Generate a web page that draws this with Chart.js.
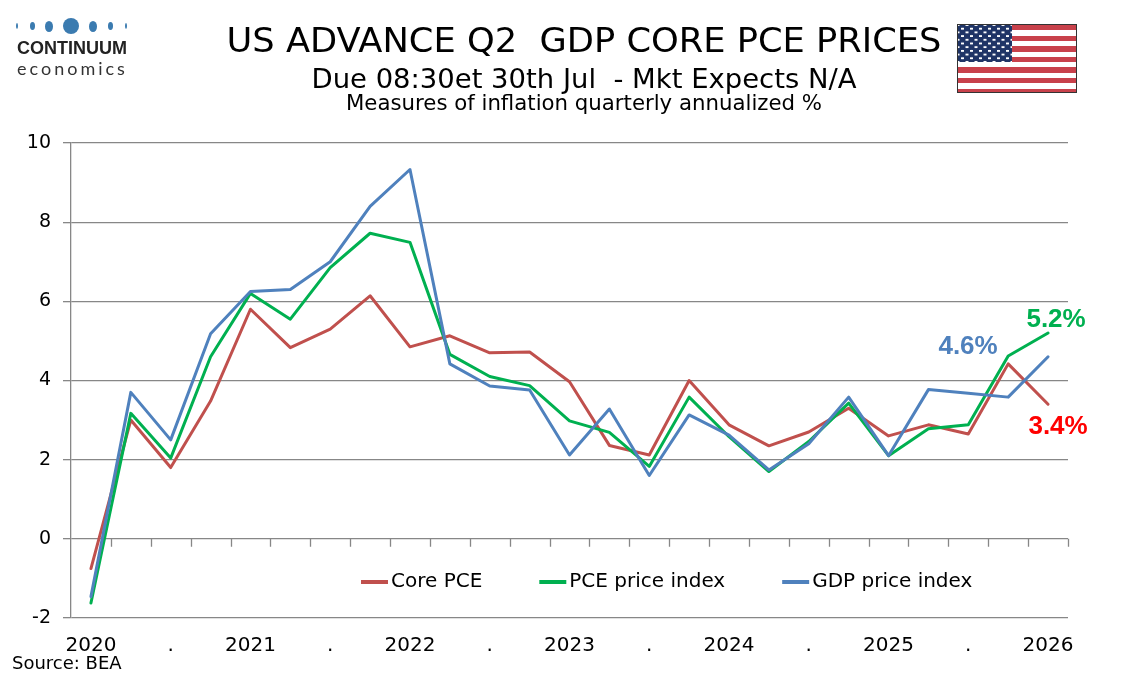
<!DOCTYPE html>
<html>
<head>
<meta charset="utf-8">
<script src="https://cdn.jsdelivr.net/npm/chart.js@4/dist/chart.umd.min.js"></script>
<style>
  body { margin: 0; background: #fff; }
  #wrap { position: relative; width: 1134px; height: 680px; overflow: hidden; background: #fff; }
  #chart { position: absolute; left: 0; top: 0; }
  .hdr { position: absolute; left: 0; width: 1168px; text-align: center; color: #000; line-height: 1;
         font-family: "DejaVu Sans", sans-serif; white-space: nowrap; transform-origin: 584px 0; }
  #t1 { top: 24px; font-size: 33px; }
  #t2 { top: 65px; font-size: 27px; }
  #t3 { top: 93px; font-size: 21px; }
  #logo { position: absolute; left: 12px; top: 14px; width: 125px; }
  .dot { position: absolute; background: #3b7bb0; border-radius: 50%; }
  #logo .name { position: absolute; left: 5px; top: 24px; font: bold 18px "Liberation Sans", sans-serif; color: #222; }
  #logo .sub { position: absolute; left: 5px; top: 43px; font: 18px Lato, sans-serif; color: #333; letter-spacing: 3px; }
  #flag { position: absolute; left: 957px; top: 24px; width: 120px; height: 69px; box-sizing: border-box;
          border: 1px solid #333;
          background: repeating-linear-gradient(to bottom, #c8414b 0, #c8414b 5.3px, #fff 5.3px, #fff 10.6px); }
  #canton { position: absolute; left: 0; top: 0; width: 54px; height: 37px; background-color: #1f3466;
            background-image: radial-gradient(circle, #fff 1.1px, transparent 1.4px),
                              radial-gradient(circle, #fff 1.1px, transparent 1.4px);
            background-size: 9px 7.4px, 9px 7.4px; background-position: 0 0, 4.5px 3.7px; }
  #source { position: absolute; left: 12px; top: 652px; font: 18px "DejaVu Sans", sans-serif; color: #000; }
</style>
</head>
<body>
<div id="wrap">
  <canvas id="chart" width="1134" height="680"></canvas>
  <div id="logo">
    <div class="dot" style="left:4px;top:9px;width:2px;height:6px"></div>
    <div class="dot" style="left:18px;top:8px;width:5px;height:8px"></div>
    <div class="dot" style="left:33px;top:7px;width:8px;height:11px"></div>
    <div class="dot" style="left:51px;top:4px;width:16px;height:16px"></div>
    <div class="dot" style="left:77px;top:7px;width:8px;height:11px"></div>
    <div class="dot" style="left:96px;top:8px;width:5px;height:8px"></div>
    <div class="dot" style="left:113px;top:9px;width:2px;height:6px"></div>
    <div class="name">CONTINUUM</div>
    <div class="sub">economics</div>
  </div>
  <div class="hdr" id="t1" data-w="715"><span>US ADVANCE Q2&nbsp; GDP CORE PCE PRICES</span></div>
  <div class="hdr" id="t2" data-w="545"><span>Due 08:30et 30th Jul&nbsp; - Mkt Expects N/A</span></div>
  <div class="hdr" id="t3" data-w="476"><span>Measures of inflation quarterly annualized %</span></div>
  <div id="flag"><div id="canton"></div></div>
  <div id="source">Source: BEA</div>
</div>
<script>
// quarterly annualized % changes
const quarters = ['2020Q2','2020Q3','2020Q4','2021Q1','2021Q2','2021Q3','2021Q4','2022Q1','2022Q2',
  '2022Q3','2022Q4','2023Q1','2023Q2','2023Q3','2023Q4','2024Q1','2024Q2','2024Q3','2024Q4',
  '2025Q1','2025Q2','2025Q3','2025Q4','2026Q1','2026Q2'];
const xTickLabels = ['2020','','.','','2021','','.','','2022','','.','','2023','','.','',
  '2024','','.','','2025','','.','','2026'];
const corePce = [-0.75, 3.0, 1.8, 3.48, 5.8, 4.83, 5.3, 6.14, 4.85, 5.13, 4.7, 4.72, 3.97,
  2.36, 2.12, 4.0, 2.88, 2.35, 2.7, 3.3, 2.6, 2.88, 2.65, 4.42, 3.4];
const pceIndex = [-1.62, 3.17, 2.04, 4.6, 6.2, 5.55, 6.85, 7.72, 7.49, 4.66, 4.1, 3.87, 2.98,
  2.69, 1.83, 3.58, 2.58, 1.7, 2.46, 3.43, 2.1, 2.78, 2.88, 4.62, 5.2];
const gdpIndex = [-1.46, 3.7, 2.5, 5.18, 6.25, 6.3, 7.0, 8.4, 9.33, 4.42, 3.86, 3.76, 2.12,
  3.28, 1.6, 3.13, 2.62, 1.74, 2.4, 3.58, 2.1, 3.77, 3.68, 3.58, 4.6];
const yTicks = [-2, 0, 2, 4, 6, 8, 10];

const gridColor = '#878787';

// squeeze the header lines to the widths they have in the original
document.querySelectorAll('.hdr').forEach(el => {
  const w = el.querySelector('span').getBoundingClientRect().width;
  el.style.transform = 'scaleX(' + (+el.dataset.w / w) + ')';
});

// tick marks hanging under the zero line, one per category boundary
const zeroTicks = {
  id: 'zeroTicks',
  beforeDatasetsDraw(chart) {
    const {ctx, scales: {x, y}} = chart;
    const y0 = y.getPixelForValue(0);
    const w = (x.right - x.left) / quarters.length;
    ctx.save();
    ctx.strokeStyle = gridColor;
    ctx.lineWidth = 1.3;
    ctx.beginPath();
    for (let i = 1; i <= quarters.length; i++) {
      const px = Math.round(x.left + i * w) + 0.5;
      ctx.moveTo(px, y0);
      ctx.lineTo(px, y0 + 8);
    }
    ctx.stroke();
    ctx.restore();
  }
};

// legend inside the plot
const innerLegend = {
  id: 'innerLegend',
  afterDraw(chart) {
    const ctx = chart.ctx;
    let x = 361;
    const y = 582;
    ctx.save();
    ctx.font = '20px "DejaVu Sans"';
    ctx.textBaseline = 'middle';
    chart.data.datasets.forEach(ds => {
      ctx.strokeStyle = ds.borderColor;
      ctx.lineWidth = 4;
      ctx.beginPath();
      ctx.moveTo(x, y);
      ctx.lineTo(x + 27, y);
      ctx.stroke();
      ctx.fillStyle = '#000';
      ctx.fillText(ds.label, x + 30, y);
      x += 30 + ctx.measureText(ds.label).width + 57;
    });
    ctx.restore();
  }
};

// latest value labels
const lastLabels = {
  id: 'lastLabels',
  afterDatasetsDraw(chart) {
    const ctx = chart.ctx;
    ctx.save();
    ctx.font = 'bold 26px "Liberation Sans"';
    ctx.textAlign = 'center';
    ctx.textBaseline = 'middle';
    chart.data.datasets.forEach((ds, i) => {
      const pts = chart.getDatasetMeta(i).data;
      const p = pts[pts.length - 1];
      const v = ds.data[ds.data.length - 1];
      ctx.fillStyle = ds.tagColor;
      ctx.fillText(v.toFixed(1) + '%', p.x + ds.tagDx, p.y + ds.tagDy);
    });
    ctx.restore();
  }
};

const config = {
  type: 'line',
  data: {
    labels: quarters,
    datasets: [{
      label: 'Core PCE',
      data: corePce,
      borderColor: '#c0504d',
      tagColor: '#ff0000', tagDx: 10, tagDy: 23,
      order: 2
    }, {
      label: 'PCE price index',
      data: pceIndex,
      borderColor: '#00b050',
      tagColor: '#00b050', tagDx: 8, tagDy: -13,
      order: 1
    }, {
      label: 'GDP price index',
      data: gdpIndex,
      borderColor: '#4f81bd',
      tagColor: '#4f81bd', tagDx: -80, tagDy: -10,
      order: 0
    }]
  },
  options: {
    responsive: false,
    animation: false,
    layout: { padding: { top: 143, right: 66, left: 0, bottom: 0 } },
    elements: {
      line: { borderWidth: 3, tension: 0, borderJoinStyle: 'round', borderCapStyle: 'round' },
      point: { radius: 0 }
    },
    plugins: {
      legend: { display: false },
      title: { display: false },
      tooltip: { enabled: false }
    },
    scales: {
      x: {
        type: 'category',
        offset: true,
        afterFit(scale) { scale.height = 62; },
        grid: { display: false, drawTicks: false },
        border: { display: false },
        ticks: {
          autoSkip: false,
          maxRotation: 0,
          padding: 16,
          color: '#000',
          font: { family: 'DejaVu Sans', size: 20 },
          callback: (v, i) => xTickLabels[i]
        }
      },
      y: {
        min: -2,
        max: 10,
        afterFit(scale) { scale.width = 71; },
        afterBuildTicks(scale) { scale.ticks = yTicks.map(v => ({value: v})); },
        grid: { color: gridColor, lineWidth: 1.3, tickLength: 8, tickColor: gridColor },
        border: { display: true, color: gridColor, width: 1.3 },
        ticks: {
          padding: 12,
          color: '#000',
          font: { family: 'DejaVu Sans', size: 19 }
        }
      }
    }
  },
  plugins: [zeroTicks, lastLabels, innerLegend]
};

const inflationChart = new Chart(document.getElementById('chart'), config);
</script>
</body>
</html>
